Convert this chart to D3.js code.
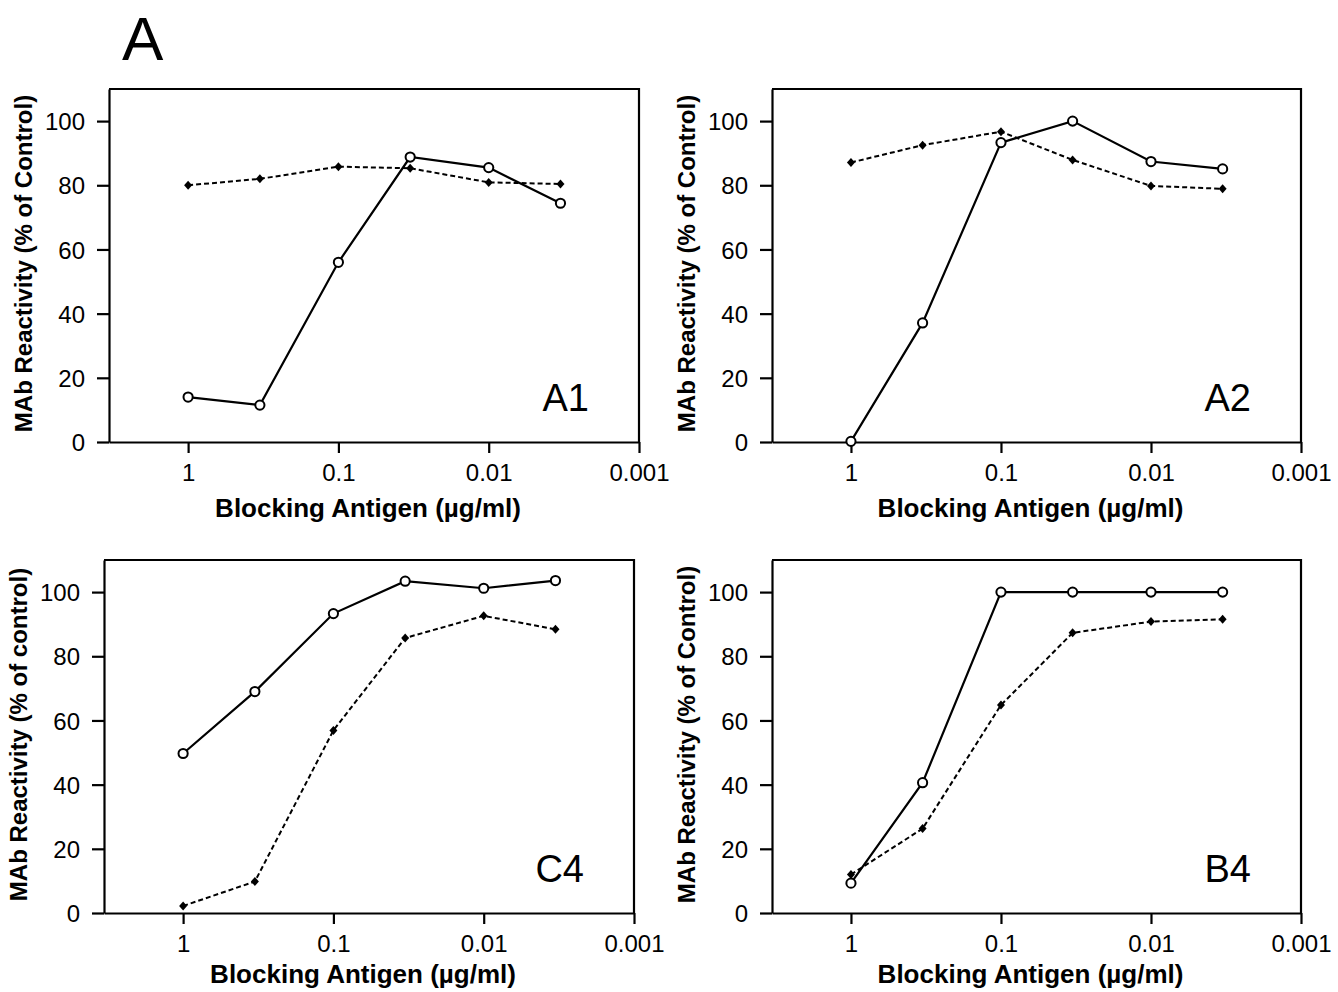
<!DOCTYPE html>
<html>
<head>
<meta charset="utf-8">
<script src="https://cdn.jsdelivr.net/npm/d3@7"></script>
<style>
  body { margin: 0; background: #fff; }
  text { font-family: "Liberation Sans", Arial, sans-serif; fill: #000; }
</style>
</head>
<body>
<script>
// blocking antigen concentrations (3-fold dilution), ug/ml
var conc = [1, 0.333, 0.1, 0.0333, 0.01, 0.00333];
var xTicks = [1, 0.1, 0.01, 0.001];
var xTickLabels = ["1", "0.1", "0.01", "0.001"];
var yTicks = [0, 20, 40, 60, 80, 100];

var a1Open    = [14, 11.5, 56, 88.8, 85.5, 74.4];
var a1Diamond = [80, 82, 85.8, 85.3, 80.9, 80.4];
var a2Open    = [0.2, 37.1, 93.3, 100, 87.4, 85.1];
var a2Diamond = [87.1, 92.5, 96.7, 87.9, 79.8, 78.9];
var c4Open    = [49.7, 69, 93.3, 103.4, 101.2, 103.6];
var c4Diamond = [2.2, 9.8, 56.9, 85.7, 92.6, 88.4];
var b4Open    = [9.3, 40.6, 100, 100, 100, 100];
var b4Diamond = [12, 26.3, 64.8, 87.3, 90.8, 91.5];

var panelNames = ["A1", "A2", "C4", "B4"];
var yTitles = ["MAb Reactivity (% of Control)", "MAb Reactivity (% of Control)",
               "MAb Reactivity (% of control)", "MAb Reactivity (% of Control)"];
var openSeries = [a1Open, a2Open, c4Open, b4Open];
var diamondSeries = [a1Diamond, a2Diamond, c4Diamond, b4Diamond];

// frame placement of each panel
var frames = [
  {left: 109, right: 639, top: 89, bottom: 442},
  {left: 772, right: 1301, top: 89, bottom: 442},
  {left: 104, right: 634, top: 560, bottom: 913},
  {left: 772, right: 1301, top: 560, bottom: 913}
];

var svg = d3.select("body").append("svg")
  .attr("width", 1338).attr("height", 992);

svg.append("text")
  .attr("x", 122).attr("y", 60)
  .style("font-size", "62px")
  .text("A");

panelNames.forEach(function (name, i) {
  var f = frames[i];
  var x = d3.scaleLog().domain([3.36, 0.001]).range([f.left, f.right]);
  var y = d3.scaleLinear().domain([0, 110]).range([f.bottom, f.top]);
  var g = svg.append("g");

  // top and right frame lines
  g.append("path")
    .attr("d", "M" + f.left + "," + f.top + "H" + f.right + "V" + f.bottom)
    .attr("fill", "none").attr("stroke", "#000").attr("stroke-width", 2.2);

  var yAxis = g.append("g")
    .attr("transform", "translate(" + f.left + ",0)")
    .call(d3.axisLeft(y).tickValues(yTicks).tickSize(12).tickSizeOuter(0).tickPadding(12));
  var xAxis = g.append("g")
    .attr("transform", "translate(0," + f.bottom + ")")
    .call(d3.axisBottom(x).tickValues(xTicks).tickSize(11).tickSizeOuter(0).tickPadding(11)
      .tickFormat(function (d, k) { return xTickLabels[k]; }));

  [yAxis, xAxis].forEach(function (ax) {
    ax.selectAll("path, line").attr("stroke", "#000").attr("stroke-width", 2.2);
    ax.selectAll("text").style("font-size", "24px").attr("fill", "#000")
      .style("font-family", "'Liberation Sans', Arial, sans-serif");
  });
  yAxis.selectAll("text").attr("dy", "0.36em");

  g.append("text")
    .attr("transform", "translate(" + (f.left - 77) + "," + ((f.top + f.bottom) / 2 - 2) + ") rotate(-90)")
    .attr("text-anchor", "middle")
    .style("font-size", "24px").style("font-weight", "bold")
    .text(yTitles[i]);

  g.append("text")
    .attr("x", (f.left + f.right) / 2 - 6)
    .attr("y", Math.min(f.bottom + 75, 983))
    .attr("text-anchor", "middle")
    .style("font-size", "26px").style("font-weight", "bold")
    .text("Blocking Antigen (\u00b5g/ml)");

  g.append("text")
    .attr("x", f.right - 50)
    .attr("y", f.bottom - 31)
    .attr("text-anchor", "end")
    .style("font-size", "38px")
    .text(name);

  var line = d3.line()
    .x(function (d, k) { return x(conc[k]); })
    .y(function (d) { return y(d); });

  g.append("path")
    .datum(diamondSeries[i])
    .attr("d", line)
    .attr("fill", "none").attr("stroke", "#000")
    .attr("stroke-width", 2).attr("stroke-dasharray", "5,3");

  g.append("path")
    .datum(openSeries[i])
    .attr("d", line)
    .attr("fill", "none").attr("stroke", "#000").attr("stroke-width", 2.2);

  g.selectAll(".dia")
    .data(diamondSeries[i])
    .enter().append("path")
    .attr("transform", function (d, k) { return "translate(" + x(conc[k]) + "," + y(d) + ")"; })
    .attr("d", "M0,-4.5L4,0L0,4.5L-4,0Z")
    .attr("fill", "#000");

  g.selectAll(".open")
    .data(openSeries[i])
    .enter().append("circle")
    .attr("cx", function (d, k) { return x(conc[k]); })
    .attr("cy", function (d) { return y(d); })
    .attr("r", 4.6)
    .attr("fill", "#fff").attr("stroke", "#000").attr("stroke-width", 2);
});
</script>
</body>
</html>
